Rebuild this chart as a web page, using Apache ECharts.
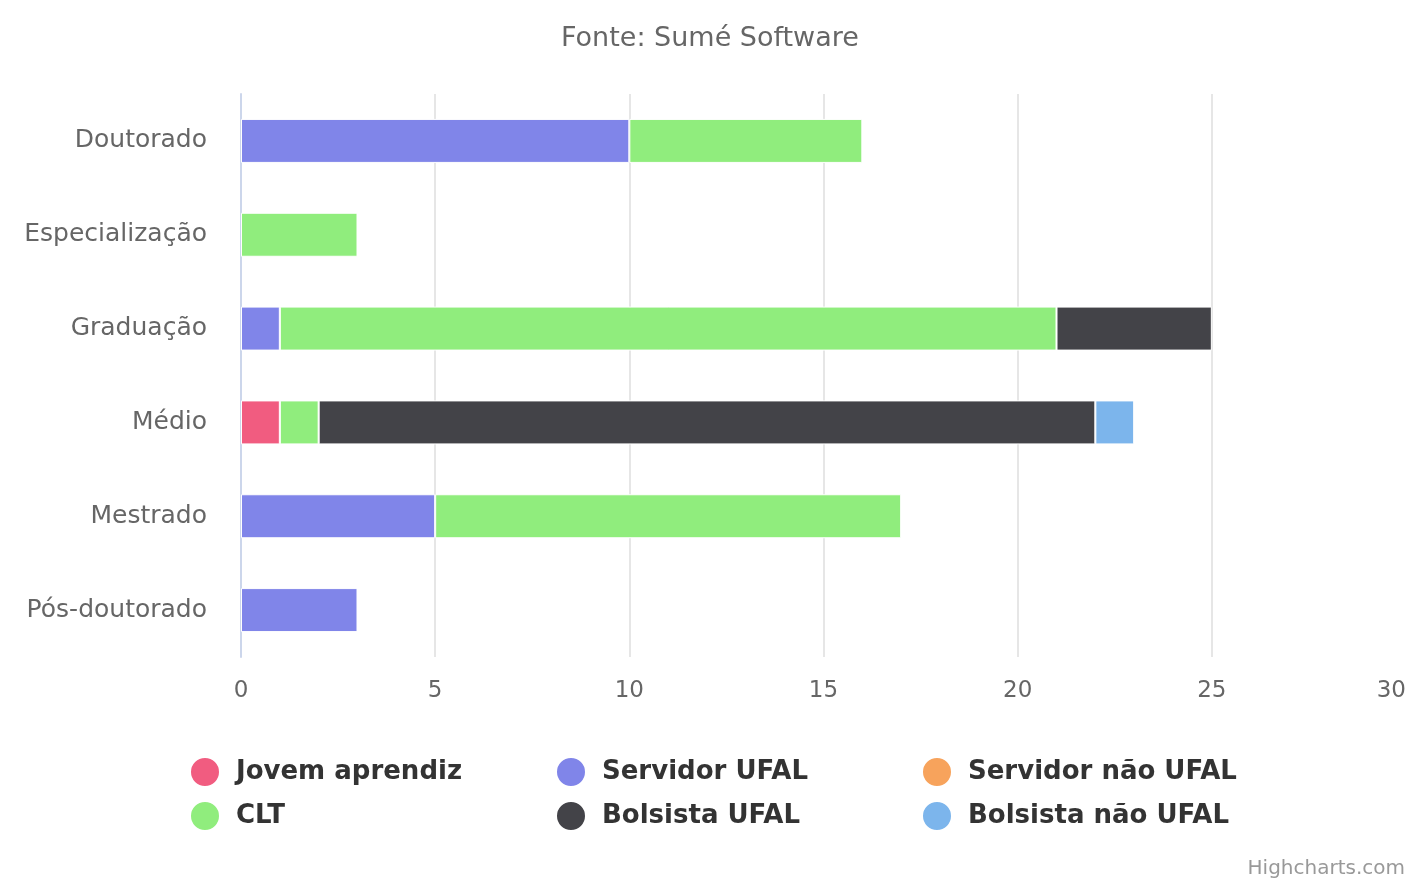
<!DOCTYPE html>
<html>
<head>
<meta charset="utf-8">
<script src="https://cdn.jsdelivr.net/npm/echarts@6/dist/echarts.min.js"></script>
<style>
  html, body { margin: 0; padding: 0; background: #fff; }
  #chart { width: 1407px; height: 886px; }
</style>
</head>
<body>
<div id="chart"></div>
<script>
var niveis = ['Doutorado', 'Especialização', 'Graduação', 'Médio', 'Mestrado', 'Pós-doutorado'];

var jovemAprendiz   = ['-', '-', '-', 1, '-', '-'];
var servidorUfal    = [10, '-', 1, '-', 5, 3];
var servidorNaoUfal = ['-', '-', '-', '-', '-', '-'];
var clt             = [6, 3, 20, 1, 12, '-'];
var bolsistaUfal    = ['-', '-', 4, 20, '-', '-'];
var bolsistaNaoUfal = ['-', '-', '-', 1, '-', '-'];

var xTicks = [0, 30, 5]; // min, max, interval

var fonte = 'DejaVu Sans';

function serie(nome, cor, valores) {
    return {
        name: nome,
        type: 'bar',
        stack: 'total',
        barWidth: 44,
        itemStyle: { color: cor, borderColor: '#fff', borderWidth: 1 },
        data: valores
    };
}

var chart = echarts.init(document.getElementById('chart'));

var legendaBase = {
    orient: 'vertical',
    top: 751,
    itemWidth: 30,
    itemHeight: 30,
    itemGap: 12,
    icon: 'circle',
    textStyle: {
        fontFamily: fonte, fontSize: 26, fontWeight: 'bold', color: '#333',
        lineHeight: 30, padding: [0, 0, 0, 11]
    }
};

var option = {
    animation: false,
    textStyle: { fontFamily: fonte },
    title: {
        text: 'Fonte: Sumé Software',
        left: 556,
        top: 20,
        textStyle: { fontFamily: fonte, fontSize: 27, fontWeight: 'normal', color: '#666' }
    },
    legend: [
        Object.assign({ left: 184, data: ['Jovem aprendiz', 'CLT'] }, legendaBase),
        Object.assign({ left: 550, data: ['Servidor UFAL', 'Bolsista UFAL'] }, legendaBase),
        Object.assign({ left: 916, data: ['Servidor não UFAL', 'Bolsista não UFAL'] }, legendaBase)
    ],
    grid: { left: 241, right: 1, top: 94, bottom: 229, outerBoundsMode: 'none' },
    xAxis: {
        type: 'value',
        min: xTicks[0],
        max: xTicks[1],
        interval: xTicks[2],
        axisLine: { show: false },
        axisTick: { show: false },
        splitLine: { showMaxLine: false, lineStyle: { color: '#e6e6e6', width: 2 } },
        axisLabel: { fontFamily: fonte, fontSize: 23, color: '#666', margin: 23, alignMaxLabel: 'right' }
    },
    yAxis: {
        type: 'category',
        inverse: true,
        data: niveis,
        axisLine: { lineStyle: { color: '#ccd6eb', width: 2 } },
        axisTick: { show: false },
        axisLabel: { fontFamily: fonte, fontSize: 25, color: '#666', margin: 34 }
    },
    graphic: [{
        type: 'text',
        right: 2,
        top: 859,
        style: { text: 'Highcharts.com', fill: '#999', font: '20px "DejaVu Sans"' }
    }],
    series: [
        serie('Jovem aprendiz', '#f15c80', jovemAprendiz),
        serie('Servidor UFAL', '#8085e9', servidorUfal),
        serie('Servidor não UFAL', '#f7a35c', servidorNaoUfal),
        serie('CLT', '#90ed7d', clt),
        serie('Bolsista UFAL', '#434348', bolsistaUfal),
        serie('Bolsista não UFAL', '#7cb5ec', bolsistaNaoUfal)
    ]
};

chart.setOption(option);
</script>
</body>
</html>
